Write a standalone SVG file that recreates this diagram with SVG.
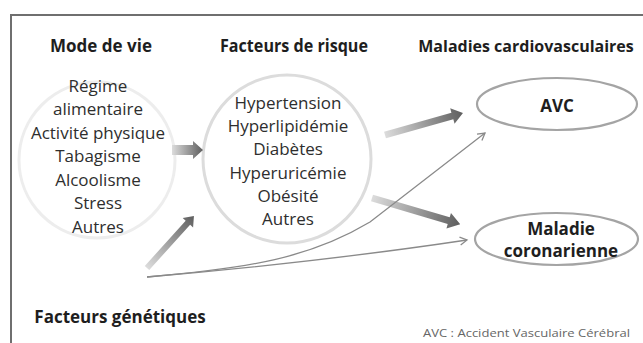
<svg xmlns="http://www.w3.org/2000/svg" width="643" height="343" viewBox="0 0 643 343">
<defs>
<style>
.h{font-family:"Open Sans","Liberation Sans",sans-serif;font-weight:bold;font-size:17px;fill:#1e1e1e;text-anchor:middle}
.t{font-family:"Open Sans","Liberation Sans",sans-serif;font-size:17px;fill:#2e2e2e;text-anchor:middle}
.note{font-family:"Open Sans","Liberation Sans",sans-serif;font-size:10px;fill:#666;text-anchor:start}
.thin{fill:none;stroke:#8a8a8a;stroke-width:1.3}
.big{fill:url(#grad)}
</style>
<linearGradient id="grad" x1="0" y1="0" x2="1" y2="0">
<stop offset="0" stop-color="#dcdcdc"/>
<stop offset="1" stop-color="#5e5e5e"/>
</linearGradient>
<marker id="open" markerWidth="10" markerHeight="10" refX="8" refY="5" orient="auto" markerUnits="userSpaceOnUse">
<path d="M1,1 L8,5 L1,9" fill="none" stroke="#8a8a8a" stroke-width="1.3"/>
</marker>
</defs>
<rect width="643" height="343" fill="#fff"/>
<rect x="11" y="15" width="650" height="350" fill="none" stroke="#6f6f6f" stroke-width="2"/>

<g id="mode-de-vie">
<circle cx="97" cy="160" r="78" fill="none" stroke="#ededed" stroke-width="3"/>
<text class="h" x="101" y="52">Mode de vie</text>
<text class="t" x="98" y="91.5">Régime</text>
<text class="t" x="98" y="115">alimentaire</text>
<text class="t" x="98" y="138.5">Activité physique</text>
<text class="t" x="98" y="162">Tabagisme</text>
<text class="t" x="98" y="185.5">Alcoolisme</text>
<text class="t" x="98" y="209">Stress</text>
<text class="t" x="98" y="232.5">Autres</text>
</g>

<g id="facteurs-risque">
<circle cx="287" cy="159" r="84" fill="none" stroke="#dcdcdc" stroke-width="3"/>
<text class="h" x="294" y="52" textLength="148" lengthAdjust="spacingAndGlyphs">Facteurs de risque</text>
<text class="t" x="288" y="109">Hypertension</text>
<text class="t" x="288" y="132.2">Hyperlipidémie</text>
<text class="t" x="288" y="155.4">Diabètes</text>
<text class="t" x="288" y="178.6">Hyperuricémie</text>
<text class="t" x="288" y="201.8">Obésité</text>
<text class="t" x="288" y="225">Autres</text>
</g>

<g id="maladies-titre">
<text class="h" x="526" y="52" style="font-size:16px">Maladies cardiovasculaires</text>
</g>

<g id="avc">
<ellipse cx="557" cy="104" rx="80" ry="26" fill="none" stroke="#a4a4a4" stroke-width="2.2"/>
<text class="h" x="557" y="112">AVC</text>
</g>

<g id="maladie-coronarienne">
<ellipse cx="556.5" cy="239" rx="81.5" ry="26" fill="none" stroke="#a4a4a4" stroke-width="2.2"/>
<text class="h" x="561" y="235">Maladie</text>
<text class="h" x="561" y="256.5">coronarienne</text>
</g>

<g id="facteurs-genetiques">
<text class="h" x="120" y="323">Facteurs génétiques</text>
</g>

<g id="connectors">
<g transform="translate(172,150)"><path class="big" d="M0,-5 H21 V-9 L31,0 L21,9 V5 H0 Z"/></g>
<g transform="translate(147,268) rotate(-47.9)"><path class="big" d="M0,-3 H61 V-7 L70,0 L61,7 V3 H0 Z"/></g>
<g transform="translate(385,135) rotate(-15.75)"><path class="big" d="M0,-3.5 H70 V-8 L81,0 L70,8 V3.5 H0 Z"/></g>
<g transform="translate(372,198) rotate(16.5)"><path class="big" d="M0,-3.5 H80 V-8 L92,0 L80,8 V3.5 H0 Z"/></g>
<path class="thin" d="M147,277 Q320,262 467,240" marker-end="url(#open)"/>
<path class="thin" d="M147,277 C250,268 310,258 370,222 L485,133" stroke="#9a9a9a" marker-end="url(#open)"/>
</g>

<text class="note" x="423" y="337" textLength="207" lengthAdjust="spacingAndGlyphs">AVC : Accident Vasculaire Cérébral</text>
</svg>
